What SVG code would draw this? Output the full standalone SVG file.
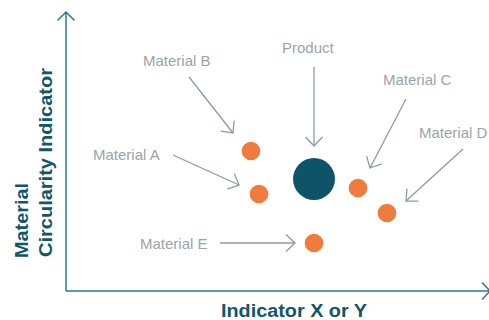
<svg xmlns="http://www.w3.org/2000/svg" width="489" height="320" viewBox="0 0 489 320">
<defs>
<style>
.lbl{font-family:"Liberation Sans",Arial,sans-serif;font-size:15px;fill:#9ba4a9}
.ax{font-family:"Liberation Sans",Arial,sans-serif;font-size:18px;font-weight:bold;fill:#12566a}
.arr{stroke:#8e9aa2;stroke-width:1.3;fill:none;marker-end:url(#ah)}
.axis{stroke:#2f7a86;stroke-width:1.5;fill:none}
.mat{fill:#ef7b3d}
</style>
<marker id="ah" markerUnits="userSpaceOnUse" markerWidth="24" markerHeight="24" viewBox="-12 -12 24 24" refX="0" refY="0" orient="auto">
<path d="M-9,-8.5 L0,0 L-9,8.5" fill="none" stroke="#8e9aa2" stroke-width="1.3"/>
</marker>
</defs>
<rect width="489" height="320" fill="#ffffff"/>
<g id="axes">
<path class="axis" d="M66,291 V12 M57.5,20.5 L66,12 L74.5,20.5"/>
<path class="axis" d="M66,291 H490 M482,282.5 L490,291 L482,299.5"/>
<text class="ax" x="221" y="317" textLength="146" lengthAdjust="spacingAndGlyphs">Indicator X or Y</text>
<text class="ax" transform="translate(28,258) rotate(-90)" textLength="75" lengthAdjust="spacingAndGlyphs">Material</text>
<text class="ax" transform="translate(52,257) rotate(-90)" textLength="189" lengthAdjust="spacingAndGlyphs">Circularity Indicator</text>
</g>
<g id="connectors">
<line class="arr" x1="189" y1="77" x2="233" y2="133"/>
<line class="arr" x1="173" y1="155" x2="239" y2="185"/>
<line class="arr" x1="314" y1="67" x2="314" y2="146"/>
<line class="arr" x1="406" y1="99" x2="370" y2="168"/>
<line class="arr" x1="463" y1="149" x2="406" y2="201"/>
<line class="arr" x1="220" y1="243" x2="295" y2="243"/>
</g>
<g id="product">
<circle cx="314" cy="179" r="21" fill="#0e5468"/>
<text class="lbl" x="282" y="53">Product</text>
</g>
<g id="material-a">
<circle class="mat" cx="259" cy="194" r="9.3"/>
<text class="lbl" x="93" y="160">Material A</text>
</g>
<g id="material-b">
<circle class="mat" cx="251" cy="151" r="9.3"/>
<text class="lbl" x="143" y="66">Material B</text>
</g>
<g id="material-c">
<circle class="mat" cx="358" cy="188" r="9.3"/>
<text class="lbl" x="383" y="85">Material C</text>
</g>
<g id="material-d">
<circle class="mat" cx="387" cy="213" r="9.3"/>
<text class="lbl" x="419" y="138">Material D</text>
</g>
<g id="material-e">
<circle class="mat" cx="314" cy="243" r="9.3"/>
<text class="lbl" x="140" y="249">Material E</text>
</g>
</svg>
